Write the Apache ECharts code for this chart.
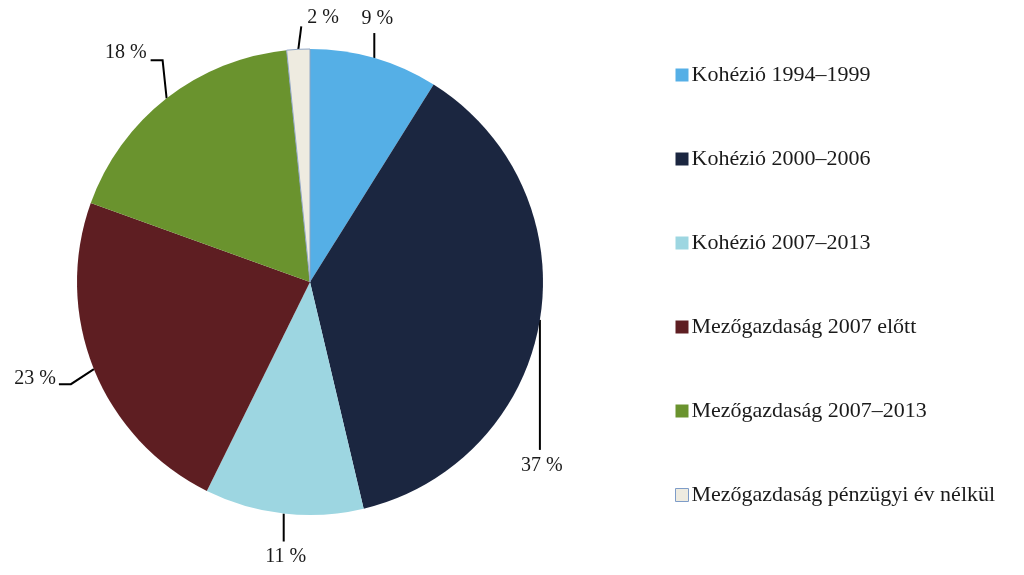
<!DOCTYPE html>
<html>
<head>
<meta charset="utf-8">
<script src="https://cdn.jsdelivr.net/npm/echarts@6/dist/echarts.min.js"></script>
<style>
html,body{margin:0;padding:0;background:#fff;}
#chart{width:1024px;height:575px;}
</style>
</head>
<body>
<div id="chart"></div>
<script>
const categories = ['Kohézió 1994–1999','Kohézió 2000–2006','Kohézió 2007–2013','Mezőgazdaság 2007 előtt','Mezőgazdaság 2007–2013','Mezőgazdaság pénzügyi év nélkül'];
const values = [8.9, 37.4, 11.0, 23.2, 17.9, 1.6];
const colors = ['#55AFE6','#1B2640','#9DD6E1','#5E1E22','#6A932E','#EEEBE0'];

// leader-line styling (screen-space offsets from the slice edge anchor)
const leaders = [
  {pts: [[0,-25]], align:'center', lab:[3,-39]},
  {pts: [[0,130]], align:'center', lab:[2,146]},
  {pts: [[0,28]], align:'center', lab:[2,43]},
  {pts: [[-23,15],[-35,15]], align:'right', lab:[-38,10]},
  {pts: [[-4,-38],[-16,-38]], align:'right', lab:[-20,-46]},
  {pts: [[3,-23]], align:'left', lab:[9,-32]}
];

const chart = echarts.init(document.getElementById('chart'));
const data = categories.map((c,i)=>({
  name:c, value:values[i],
  itemStyle: i===5 ? {color:colors[i], borderColor:'#8EA4C4', borderWidth:1} : {color:colors[i]}
}));

chart.setOption({
  animation:false,
  legend:{
    orient:'vertical',
    left:675, top:64,
    padding:0,
    itemWidth:13, itemHeight:13,
    itemGap:62,
    icon:'rect',
    data: categories.map((c,i)=> i===5 ? {name:c, itemStyle:{borderColor:'#7E9CC8', borderWidth:1}} : {name:c}),
    textStyle:{fontFamily:'Liberation Serif', fontSize:22, color:'#1a1a1a', padding:[0,0,0,-2], lineHeight:20}
  },
  series:[{
    type:'pie',
    center:[310,282],
    radius:233,
    startAngle:90,
    clockwise:true,
    data:data,
    label:{
      show:true, position:'outside',
      fontFamily:'Liberation Serif', fontSize:20, color:'#1a1a1a',
      formatter: p => Math.round(p.value) + ' %'
    },
    labelLine:{show:true, length:20, length2:10, lineStyle:{color:'#000', width:2}},
    labelLayout: function(params){
      const L = leaders[params.dataIndex];
      const a = params.labelLinePoints[0];
      const pts = [[a[0],a[1]]].concat(L.pts.map(o=>[a[0]+o[0], a[1]+o[1]]));
      return {
        x: a[0]+L.lab[0], y: a[1]+L.lab[1],
        align: L.align, verticalAlign:'middle',
        labelLinePoints: pts
      };
    },
    emphasis:{disabled:true}
  }]
});
</script>
</body>
</html>
